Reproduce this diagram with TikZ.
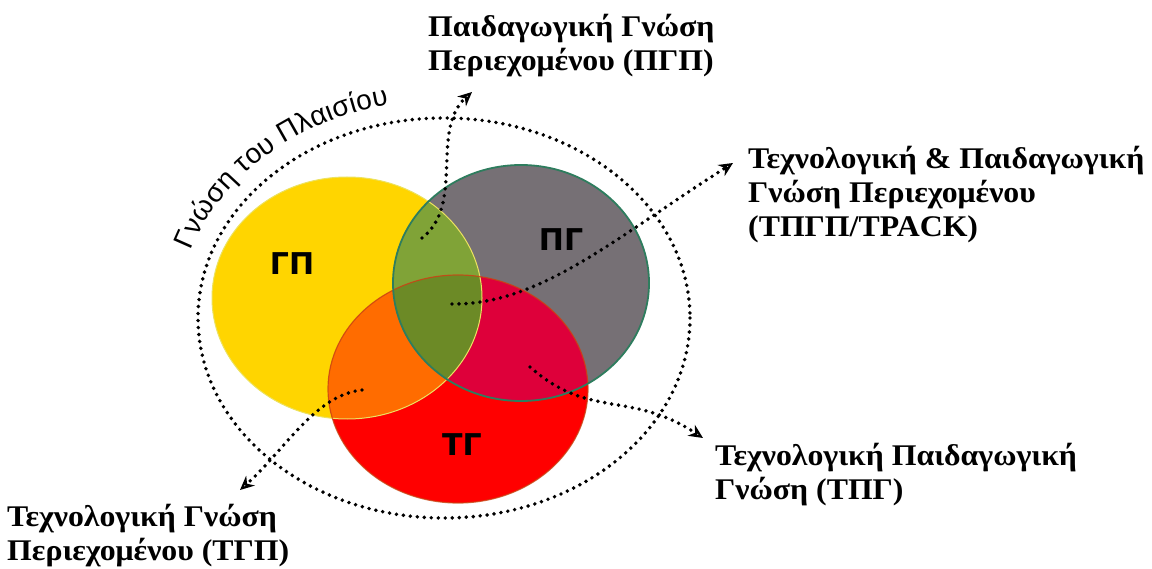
\documentclass[tikz,border=0pt]{standalone}
\usepackage{fontspec}
\setmainfont{Liberation Serif}
\newfontfamily\lblfont[FakeStretch=1.06]{Liberation Serif}
\newfontfamily\setfont{DejaVu Sans}
\newfontfamily\arcfont{Liberation Sans}
\usetikzlibrary{arrows.meta,decorations.text}

\definecolor{cYellow}{RGB}{255,213,0}
\definecolor{cGray}{RGB}{118,112,117}
\definecolor{cRed}{RGB}{255,0,0}
\definecolor{cGreen}{RGB}{128,163,55}
\definecolor{cOlive}{RGB}{108,138,38}
\definecolor{cOrange}{RGB}{255,108,0}
\definecolor{cCrimson}{RGB}{222,0,58}
\definecolor{cRim}{RGB}{46,125,94}
\definecolor{cYRim}{RGB}{236,226,96}
\definecolor{cRRim}{RGB}{200,70,20}

\begin{document}
\begin{tikzpicture}[x=1pt,y=-1pt,
  lbl/.style={font=\lblfont\bfseries\fontsize{30}{34}\selectfont, align=left,
    inner sep=0pt, anchor=north west},
  setlbl/.style={font=\setfont\bfseries\fontsize{30}{30}\selectfont, inner sep=0pt},
  dots/.style={line width=3.9pt, dash pattern=on 0pt off 7pt, line cap=round},
  dotconn/.style={dots, -{Stealth[open, length=14pt, width=13pt, line width=2.2pt]}}
]
\useasboundingbox (0,0) rectangle (1152,569);

% the three knowledge sets
\fill[cYellow] (347,298) ellipse [x radius=135, y radius=121];
\fill[cGray]   (521,283) ellipse [x radius=128, y radius=118];
\fill[cRed]    (458,389) ellipse [x radius=130, y radius=114];

% pairwise overlaps
\begin{scope}
  \clip (347,298) ellipse [x radius=135, y radius=121];
  \fill[cGreen]  (521,283) ellipse [x radius=128, y radius=118];
  \fill[cOrange] (458,389) ellipse [x radius=130, y radius=114];
\end{scope}
\begin{scope}
  \clip (521,283) ellipse [x radius=128, y radius=118];
  \fill[cCrimson] (458,389) ellipse [x radius=130, y radius=114];
\end{scope}
% triple overlap
\begin{scope}
  \clip (347,298) ellipse [x radius=135, y radius=121];
  \clip (521,283) ellipse [x radius=128, y radius=118];
  \fill[cOlive] (458,389) ellipse [x radius=130, y radius=114];
\end{scope}

% outlines
\draw[cYRim, line width=1pt] (347,298) ellipse [x radius=135, y radius=121];
\draw[cRRim, line width=1.2pt, opacity=0.8] (458,389) ellipse [x radius=130, y radius=114];
\draw[cRim, line width=1.8pt] (521,283) ellipse [x radius=128, y radius=118];

% context boundary
\draw[dots] (444,318) ellipse [x radius=246, y radius=200];

% context label along the boundary
\path[decorate, decoration={text along path,
    text={|\arcfont\fontsize{28}{28}\selectfont|Γνώση του Πλαισίου},
    text align={fit to path}}]
  (444,318) ++(-162:266 and 218)
  arc [start angle=-162, end angle=-102, x radius=266, y radius=218];

% set names
\node[setlbl] (gp) at (292,264) {ΓΠ};
\node[setlbl] (pg) at (561,240) {ΠΓ};
\node[setlbl] (tg) at (462,445) {ΤΓ};

% descriptions
\node[lbl] (pck)   at (428,14)  {Παιδαγωγική Γνώση\\Περιεχομένου (ΠΓΠ)};
\node[lbl] (tpack) at (748,146) {Τεχνολογική \& Παιδαγωγική\\Γνώση Περιεχομένου\\(ΤΠΓΠ/TPACK)};
\node[lbl] (tpk)   at (715,443) {Τεχνολογική Παιδαγωγική\\Γνώση (ΤΠΓ)};
\node[lbl] (tck)   at (7,504)   {Τεχνολογική Γνώση\\Περιεχομένου (ΤΓΠ)};

% connector ends
\coordinate (pck-s)   at (422,238);
\coordinate (pck-e)   at (472,92);
\coordinate (tpack-s) at (452,304);
\coordinate (tpack-e) at (733,163);
\coordinate (tpk-s)   at (530,367);
\coordinate (tpk-e)   at (703,438);
\coordinate (tck-s)   at (362,390);
\coordinate (tck-e)   at (240,490);

\draw[dotconn] (pck-s) .. controls (465,205) and (430,130) .. (pck-e);
\draw[dotconn] (tpack-s) .. controls (540,305) and (615,238) .. (tpack-e);
\draw[dotconn] (tpk-s) .. controls (590,420) and (630,390) .. (tpk-e);
\draw[dotconn] (tck-s) .. controls (315,395) and (285,450) .. (tck-e);
\end{tikzpicture}
\end{document}
